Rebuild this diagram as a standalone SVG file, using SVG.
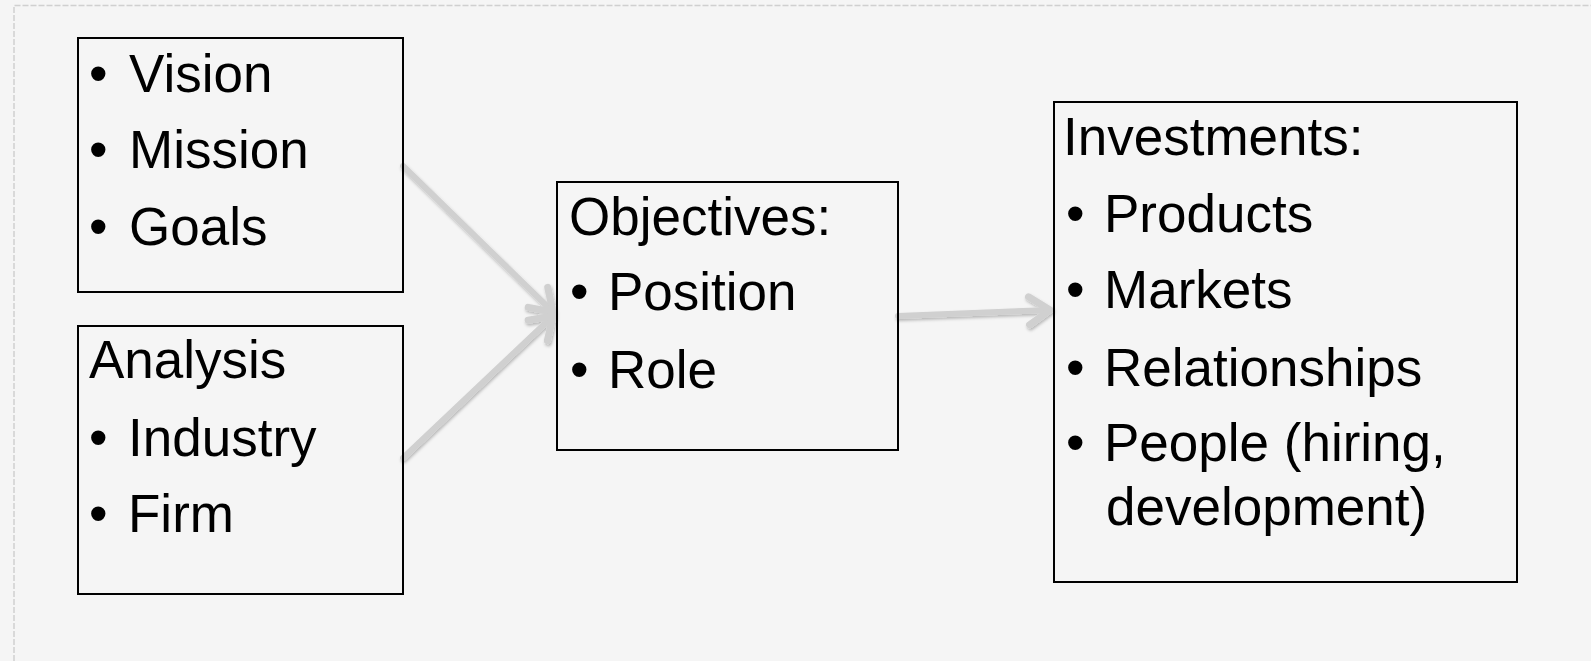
<svg xmlns="http://www.w3.org/2000/svg" width="1591" height="661" viewBox="0 0 1591 661">
  <style>
    .box { fill: none; stroke: #000; stroke-width: 2; }
    .t { font-family: "Liberation Sans", Arial, sans-serif; font-size: 53px; fill: #000; }
    .link { fill: none; stroke: #d0d0d0; stroke-width: 6; stroke-linecap: round; }
  </style>
  <defs>
    <marker id="chev" markerUnits="userSpaceOnUse" markerWidth="50" markerHeight="50" viewBox="-35 -25 50 50" refX="0" refY="0" orient="auto">
      <path d="M -21,-14 L 0,0 L -21,14" fill="none" stroke="#d0d0d0" stroke-width="7" stroke-linecap="round" stroke-linejoin="round"/>
    </marker>
    <filter id="shade" x="-20%" y="-20%" width="140%" height="140%">
      <feDropShadow dx="1" dy="2" stdDeviation="1.5" flood-color="#000" flood-opacity="0.25"/>
    </filter>
  </defs>

  <!-- canvas -->
  <rect x="0" y="0" width="1591" height="661" fill="#f5f5f5"/>
  <path d="M 14,661 L 14,5.5 L 1591,5.5" fill="none" stroke="#d0d0d0" stroke-width="1.5" stroke-dasharray="6 2"/>

  <!-- connectors -->
  <g id="connectors" filter="url(#shade)">
    <line class="link" x1="403" y1="166" x2="553" y2="312" marker-end="url(#chev)"/>
    <line class="link" x1="403" y1="458" x2="553" y2="316" marker-end="url(#chev)"/>
    <line class="link" x1="898" y1="316" x2="1050" y2="310" marker-end="url(#chev)"/>
  </g>

  <!-- vision / mission / goals -->
  <g id="node-vision">
    <rect class="box" x="78" y="38" width="325" height="254"/>
    <text class="t" x="89" y="92">•</text><text class="t" x="129" y="92">Vision</text>
    <text class="t" x="89" y="168">•</text><text class="t" x="129" y="168">Mission</text>
    <text class="t" x="89" y="245">•</text><text class="t" x="129" y="245">Goals</text>
  </g>

  <!-- analysis -->
  <g id="node-analysis">
    <rect class="box" x="78" y="326" width="325" height="268"/>
    <text class="t" x="89" y="378">Analysis</text>
    <text class="t" x="89" y="456">•</text><text class="t" x="128" y="456">Industry</text>
    <text class="t" x="89" y="532">•</text><text class="t" x="128" y="532">Firm</text>
  </g>

  <!-- objectives -->
  <g id="node-objectives">
    <rect class="box" x="557" y="182" width="341" height="268"/>
    <text class="t" x="569" y="235">Objectives:</text>
    <text class="t" x="570" y="310">•</text><text class="t" x="608" y="310">Position</text>
    <text class="t" x="570" y="388">•</text><text class="t" x="608" y="388">Role</text>
  </g>

  <!-- investments -->
  <g id="node-investments">
    <rect class="box" x="1054" y="102" width="463" height="480"/>
    <text class="t" x="1063" y="155">Investments:</text>
    <text class="t" x="1066" y="232">•</text><text class="t" x="1104" y="232">Products</text>
    <text class="t" x="1066" y="308">•</text><text class="t" x="1104" y="308">Markets</text>
    <text class="t" x="1066" y="386">•</text><text class="t" x="1104" y="386">Relationships</text>
    <text class="t" x="1066" y="461">•</text><text class="t" x="1104" y="461">People (hiring,</text>
    <text class="t" x="1106" y="525">development)</text>
  </g>
</svg>
